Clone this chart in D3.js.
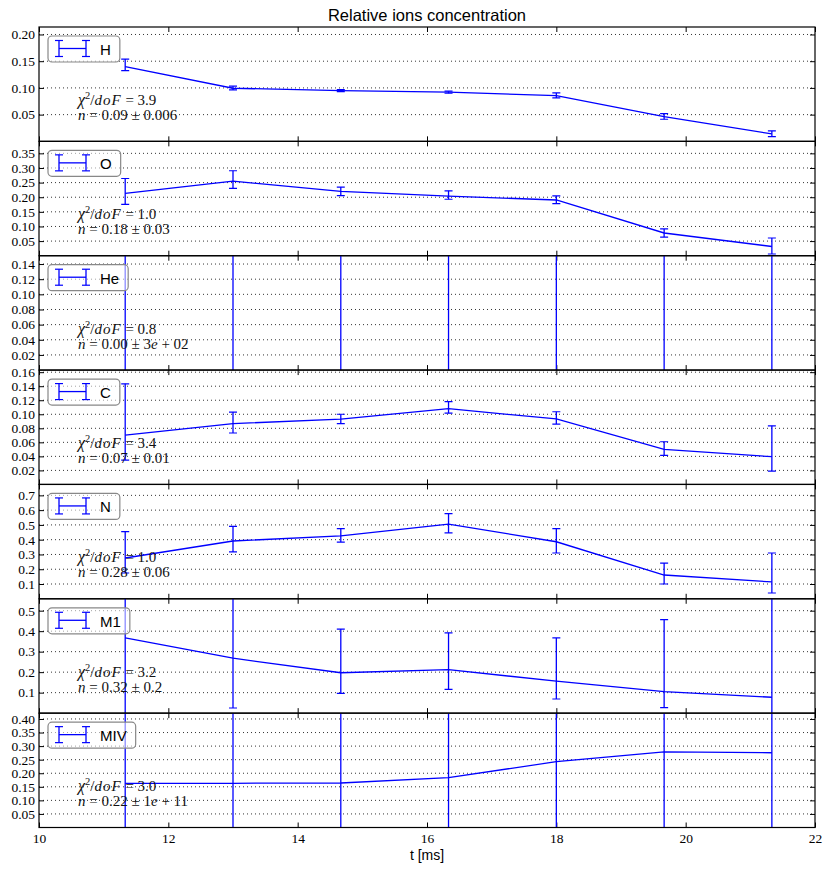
<!DOCTYPE html>
<html><head><meta charset="utf-8">
<script src="https://cdn.jsdelivr.net/npm/d3@7/dist/d3.min.js"></script>
<style>body{margin:0;background:#fff}</style>
</head><body>
<script>
// ---------- data ----------
const xValues = [11.333, 13.0, 14.667, 16.333, 18.0, 19.667, 21.333];
const xTicks = [10, 12, 14, 16, 18, 20, 22];
const ions = ["H", "O", "He", "C", "N", "M1", "MIV"];
const yMax = [0.214, 0.391, 0.151, 0.163, 0.774, 0.558, 0.4215];
const yTicksH = [0.05, 0.10, 0.15, 0.20];
const yTicksO = [0.05, 0.10, 0.15, 0.20, 0.25, 0.30, 0.35];
const yTicksHe = [0.02, 0.04, 0.06, 0.08, 0.10, 0.12, 0.14];
const yTicksC = [0.02, 0.04, 0.06, 0.08, 0.10, 0.12, 0.14, 0.16];
const yTicksN = [0.1, 0.2, 0.3, 0.4, 0.5, 0.6, 0.7];
const yTicksM1 = [0.1, 0.2, 0.3, 0.4, 0.5];
const yTicksMIV = [0.05, 0.10, 0.15, 0.20, 0.25, 0.30, 0.35, 0.40];
const yTickDecimals = [2, 2, 2, 2, 1, 1, 2];

const H_y  = [0.140, 0.0994, 0.095, 0.092, 0.0856, 0.0463, 0.0139];
const H_lo = [0.1325, 0.0963, 0.093, 0.090, 0.0813, 0.0414, 0.0088];
const H_hi = [0.154, 0.1032, 0.097, 0.094, 0.0906, 0.0519, 0.0195];

const O_y  = [0.213, 0.255, 0.220, 0.204, 0.1905, 0.0777, 0.0315];
const O_lo = [0.1755, 0.230, 0.2057, 0.193, 0.178, 0.0637, 0.0058];
const O_hi = [0.264, 0.2905, 0.2348, 0.222, 0.2044, 0.0917, 0.0606];

const He_y  = [-0.01, -0.01, -0.01, -0.01, -0.01, -0.01, -0.01];
const He_lo = [-300, -300, -300, -300, -300, -300, -300];
const He_hi = [300, 300, 300, 300, 300, 300, 300];

const C_y  = [0.0703, 0.0867, 0.0931, 0.108, 0.0933, 0.050, 0.0395];
const C_lo = [0.0347, 0.0733, 0.0867, 0.1016, 0.086, 0.0414, 0.019];
const C_hi = [0.1434, 0.1032, 0.100, 0.1181, 0.1036, 0.0608, 0.0836];

const N_y  = [0.276, 0.391, 0.426, 0.505, 0.386, 0.161, 0.114];
const N_lo = [0.1746, 0.317, 0.384, 0.446, 0.310, 0.100, 0.039];
const N_hi = [0.454, 0.490, 0.475, 0.577, 0.475, 0.242, 0.310];

const M1_y  = [0.367, 0.268, 0.197, 0.212, 0.156, 0.105, 0.0775];
const M1_lo = [-0.2, 0.025, 0.096, 0.116, 0.069, 0.027, -0.5];
const M1_hi = [0.95, 0.9, 0.41, 0.392, 0.367, 0.456, 0.95];

const MIV_y  = [0.163, 0.163, 0.164, 0.184, 0.2425, 0.279, 0.2756];
const MIV_lo = [-1e11, -1e11, -1e11, -1e11, -1e11, -1e11, -1e11];
const MIV_hi = [1e11, 1e11, 1e11, 1e11, 1e11, 1e11, 1e11];

const chi2Text = ["3.9", "1.0", "0.8", "3.4", "1.0", "3.2", "3.0"];
const nText = ["0.09 ± 0.006", "0.18 ± 0.03", "0.00 ± 3e + 02", "0.07 ± 0.01",
               "0.28 ± 0.06", "0.32 ± 0.2", "0.22 ± 1e + 11"];

const title = "Relative ions concentration";
const xLabel = "t [ms]";

// ---------- assemble ----------
const seriesY = [H_y, O_y, He_y, C_y, N_y, M1_y, MIV_y];
const seriesLo = [H_lo, O_lo, He_lo, C_lo, N_lo, M1_lo, MIV_lo];
const seriesHi = [H_hi, O_hi, He_hi, C_hi, N_hi, M1_hi, MIV_hi];
const yTicks = [yTicksH, yTicksO, yTicksHe, yTicksC, yTicksN, yTicksM1, yTicksMIV];

// ---------- layout ----------
const W = 832, Hh = 872;
const L = 39, R = 815, T = 27, B = 827.5;
const ph = (B - T) / ions.length;
const blue = "#0000ff";
const serif = "'Liberation Serif', 'DejaVu Serif', serif";
const sans = "'Liberation Sans', Arial, sans-serif";

const svg = d3.select("body").append("svg")
  .attr("width", W).attr("height", Hh);

const x = d3.scaleLinear().domain([10, 22]).range([L, R]);

svg.append("text").attr("x", (L + R) / 2).attr("y", 21)
  .attr("text-anchor", "middle").attr("font-family", sans)
  .attr("font-size", "16.5px").text(title);

ions.forEach((name, i) => {
  const top = T + i * ph, bot = top + ph;
  const y = d3.scaleLinear().domain([0, yMax[i]]).range([bot, top]);
  const g = svg.append("g");
  const clipId = "clip" + i;
  svg.append("clipPath").attr("id", clipId).append("rect")
    .attr("x", L).attr("y", top).attr("width", R - L).attr("height", ph);

  // grid
  g.append("g").selectAll("line").data(yTicks[i]).join("line")
    .attr("x1", L).attr("x2", R)
    .attr("y1", d => y(d)).attr("y2", d => y(d))
    .attr("stroke", "#000").attr("stroke-width", 0.8)
    .attr("stroke-dasharray", "1,3");

  // axes
  const fmt = d3.format("." + yTickDecimals[i] + "f");
  const ax = g.append("g").attr("transform", `translate(${L},0)`)
    .call(d3.axisLeft(y).tickValues(yTicks[i]).tickFormat(fmt).tickSize(-5).tickPadding(4));
  ax.select(".domain").remove();
  ax.selectAll("text").attr("font-family", serif).attr("font-size", "13.5px").attr("fill", "#000");
  const axr = g.append("g").attr("transform", `translate(${R},0)`)
    .call(d3.axisRight(y).tickValues(yTicks[i]).tickFormat("").tickSize(-5));
  axr.select(".domain").remove();
  const axt = g.append("g").attr("transform", `translate(0,${top})`)
    .call(d3.axisTop(x).tickValues(xTicks).tickFormat("").tickSize(-5));
  axt.select(".domain").remove();
  const axb = g.append("g").attr("transform", `translate(0,${bot})`)
    .call(d3.axisBottom(x).tickValues(xTicks)
      .tickFormat(i === ions.length - 1 ? d3.format("d") : "").tickSize(-5).tickPadding(6));
  axb.select(".domain").remove();
  axb.selectAll("text").attr("font-family", serif).attr("font-size", "13.5px").attr("fill", "#000");
  g.selectAll(".tick line").attr("stroke", "#000");

  // data
  const pts = xValues.map((xv, k) => ({x: xv, y: seriesY[i][k], lo: seriesLo[i][k], hi: seriesHi[i][k]}));
  const dg = g.append("g").attr("clip-path", `url(#${clipId})`);
  const dmin = -yMax[i] * 0.05, dmax = yMax[i] * 1.05;
  const clamp = v => Math.max(dmin, Math.min(dmax, v));
  dg.append("path").datum(pts)
    .attr("d", d3.line().x(d => x(d.x)).y(d => y(clamp(d.y))))
    .attr("fill", "none").attr("stroke", blue).attr("stroke-width", 1.3);
  dg.selectAll("line.eb").data(pts).join("line").attr("class", "eb")
    .attr("x1", d => x(d.x)).attr("x2", d => x(d.x))
    .attr("y1", d => y(clamp(d.lo))).attr("y2", d => y(clamp(d.hi)))
    .attr("stroke", blue).attr("stroke-width", 1.3);
  const caps = [];
  pts.forEach(d => {
    if (d.lo >= dmin && d.lo <= dmax) caps.push({x: d.x, v: d.lo});
    if (d.hi >= dmin && d.hi <= dmax) caps.push({x: d.x, v: d.hi});
  });
  dg.selectAll("line.cap").data(caps).join("line").attr("class", "cap")
    .attr("x1", d => x(d.x) - 4).attr("x2", d => x(d.x) + 4)
    .attr("y1", d => y(d.v)).attr("y2", d => y(d.v))
    .attr("stroke", blue).attr("stroke-width", 1.2);

  // annotation
  const tx = 78;
  const t1 = g.append("text").attr("x", tx).attr("y", top + 78)
    .attr("font-family", serif).attr("font-size", "15px").attr("fill", "#111")
    .style("white-space", "pre");
  t1.append("tspan").attr("font-style", "italic").attr("font-size", "16px").text("χ");
  t1.append("tspan").attr("font-size", "10.5px").attr("dy", -6).text("2");
  t1.append("tspan").attr("dy", 6).text("/");
  t1.append("tspan").attr("font-style", "italic").attr("letter-spacing", "1px").text("doF");
  t1.append("tspan").text(" = " + chi2Text[i]);
  const t2 = g.append("text").attr("x", tx).attr("y", top + 93)
    .attr("font-family", serif).attr("font-size", "15px").attr("fill", "#111")
    .style("white-space", "pre");
  t2.append("tspan").attr("font-style", "italic").text("n");
  const parts = nText[i].split("e");
  t2.append("tspan").text(" = " + parts[0]);
  if (parts.length > 1) {
    t2.append("tspan").attr("font-style", "italic").text("e");
    t2.append("tspan").text(parts[1]);
  }

  // legend
  const lg = g.append("g");
  const box = lg.append("rect").attr("x", 48).attr("y", top + 9).attr("height", 26)
    .attr("rx", 4).attr("fill", "#fff").attr("fill-opacity", 0.55)
    .attr("stroke", "#888").attr("stroke-width", 1.2);
  const cy = top + 21.5;
  lg.append("line").attr("x1", 59).attr("x2", 86).attr("y1", cy).attr("y2", cy)
    .attr("stroke", blue).attr("stroke-width", 1.3);
  [59, 86].forEach(xx => {
    lg.append("line").attr("x1", xx).attr("x2", xx).attr("y1", cy - 8).attr("y2", cy + 8)
      .attr("stroke", blue).attr("stroke-width", 1.3);
    [cy - 8, cy + 8].forEach(yy => lg.append("line").attr("x1", xx - 4).attr("x2", xx + 4)
      .attr("y1", yy).attr("y2", yy).attr("stroke", blue).attr("stroke-width", 1.2));
  });
  const lt = lg.append("text").attr("x", 100).attr("y", top + 28)
    .attr("font-family", sans).attr("font-size", "15px").attr("fill", "#000").text(name);
  const tw = lt.node().getComputedTextLength();
  box.attr("width", 100 + tw + 9 - 48);

  // frame
  g.append("rect").attr("x", L).attr("y", top).attr("width", R - L).attr("height", ph)
    .attr("fill", "none").attr("stroke", "#000").attr("stroke-width", 1.2);
});

svg.append("text").attr("x", (L + R) / 2).attr("y", 860)
  .attr("text-anchor", "middle").attr("font-family", sans)
  .attr("font-size", "14px").text(xLabel);
</script>
</body></html>
